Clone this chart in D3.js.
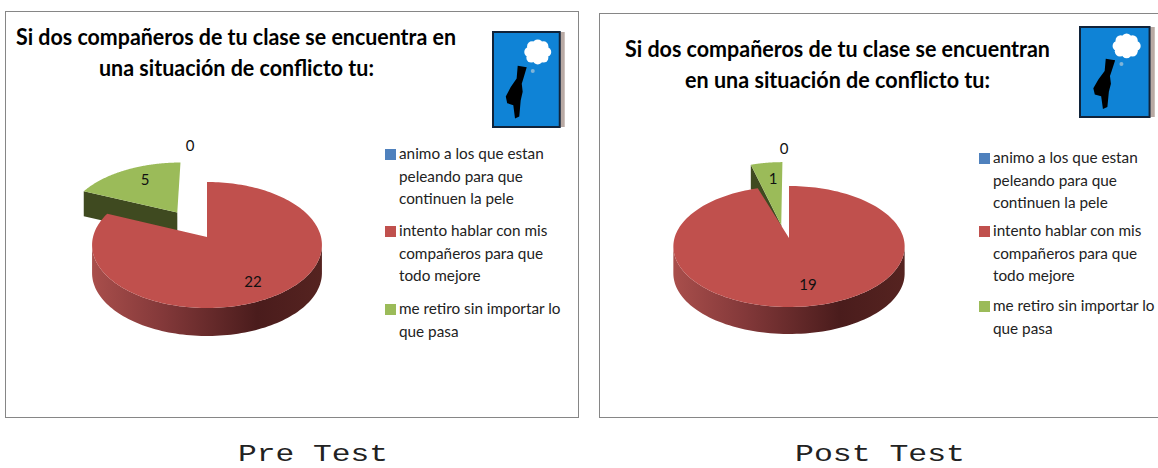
<!DOCTYPE html>
<html><head><meta charset="utf-8">
<script src="https://cdn.jsdelivr.net/npm/d3@7"></script>
<style>html,body{margin:0;background:#fff;overflow:hidden}svg{display:block}</style></head>
<body><svg id="c" width="1158" height="468"></svg>
<script>
const categories=["animo a los que estan peleando para que continuen la pele","intento hablar con mis compañeros para que todo mejore","me retiro sin importar lo que pasa"];
const legendLines=[["animo a los que estan","peleando para que","continuen la pele"],["intento hablar con mis","compañeros para que","todo mejore"],["me retiro sin importar lo","que pasa"]];
const colors=["#4F81BD","#C0504D","#9BBB59"];
const preValues=[0,22,5];
const postValues=[0,19,1];
const preTitle=["Si dos compañeros de tu clase se encuentra en","una situación de conflicto tu:"];
const postTitle=["Si dos compañeros de tu clase se encuentran","en una situación de conflicto tu:"];
const captions=["Pre Test","Post Test"];
const panels=[
 {values:preValues,title:preTitle,caption:captions[0],box:[5,11,573,406],titleX:[16,99],titleLen:[440,275],titleY:[45,76],
  apex:[207,237],top:55,bottom:71,rx:114,depth:28,ex:{u:-.2745,v:.418,sx:1,sy:1},gdepth:25,
  icon:[493,32,71,95],legend:{x:385,sw:12,ys:[154,231,309]},lab:{zero:[190,146],green:[145,180],red:[253,282]},capX:313},
 {values:postValues,title:postTitle,caption:captions[1],box:[599,13,570,404],titleX:[625,685],titleLen:[425,305],titleY:[57,88],
  apex:[789,238],top:52,bottom:69,rx:114.5,depth:27,ex:{u:-.07,v:.22,sx:1.08,sy:1.34},gdepth:24,
  icon:[1080,27,74,90],legend:{x:979,sw:12,ys:[158,231,306]},lab:{zero:[784,149],green:[773,179],red:[808,285]},capX:880}
];
const figure=[[34.8,35.4],[47.5,37],[42.8,49],[40.5,54.5],[41.8,63],[39,72],[37,89],[31,91],[28.6,77],[20,75],[18,68],[25,58],[33.3,49]];
const cloud=[[63,29,7],[54,27,7],[51,21,7],[55,15,7],[63,13,7],[71,15,7],[75,21,7],[71,27,7],[63,21,10]];
const svg=d3.select("#c");
const defs=svg.append("defs");
const pieGen=d3.pie().sort(null).value(d=>d);
const font="Lato, 'Open Sans', sans-serif";
panels.forEach((p,pi)=>{
  const g=svg.append("g");
  g.append("rect").attr("x",p.box[0]+.5).attr("y",p.box[1]+.5).attr("width",p.box[2]).attr("height",p.box[3]).attr("fill","#fff").attr("stroke","#868686").attr("stroke-width",1);
  p.title.forEach((t,i)=>g.append("text").text(t).attr("x",p.titleX[i]).attr("y",p.titleY[i]).attr("font-family",font).attr("font-weight",700).attr("font-size",22).attr("textLength",p.titleLen[i]).attr("lengthAdjust","spacingAndGlyphs").attr("fill","#000"));
  const w=(p.bottom-p.top)/(p.bottom+p.top), ry=p.top*(1+w);
  const proj=(u,v)=>{const k=1+w*v;return [p.apex[0]+p.rx*u/k,p.apex[1]-ry*v/k];};
  const arcs=pieGen(p.values);
  const angles=(a0,a1)=>d3.range(0,181).map(i=>a0+(a1-a0)*i/180);
  const line=d3.line();
  const red=arcs[1], green=arcs[2];
  const gpt=a=>proj(p.ex.u+p.ex.sx*Math.sin(a),p.ex.v+p.ex.sy*Math.cos(a));
  const gapex=proj(p.ex.u,p.ex.v), gleft=gpt(green.startAngle);
  g.append("path").attr("d",line([gapex,gleft,[gleft[0],gleft[1]+p.gdepth],[gapex[0],gapex[1]+p.gdepth]])+"Z").attr("fill","#3F4A20");
  g.append("path").attr("d",line([gapex,...angles(green.startAngle,green.endAngle).map(gpt)])+"Z").attr("fill",colors[2]);
  const gid="side"+pi;
  const lg=defs.append("linearGradient").attr("id",gid).attr("gradientUnits","userSpaceOnUse").attr("x1",p.apex[0]-p.rx).attr("x2",p.apex[0]+p.rx).attr("y1",0).attr("y2",0);
  [[0,"#A84E4B"],[.3,"#84393A"],[.72,"#4A1C1C"],[1,"#552320"]].forEach(s=>lg.append("stop").attr("offset",s[0]).attr("stop-color",s[1]));
  const rpt=a=>proj(Math.sin(a),Math.cos(a));
  const rim=angles(red.startAngle,red.endAngle).map(rpt);
  const front=rim.slice(d3.greatestIndex(rim,d=>d[0]),d3.leastIndex(rim,d=>d[0])+1);
  g.append("path").attr("d",line([...front,...front.slice().reverse().map(d=>[d[0],d[1]+p.depth])])+"Z").attr("fill",`url(#${gid})`);
  g.append("path").attr("d",line([proj(0,0),...rim])+"Z").attr("fill",colors[1]);
  [["zero",arcs[0].value],["green",green.value],["red",red.value]].forEach(([k,v])=>g.append("text").text(v).attr("x",p.lab[k][0]).attr("y",p.lab[k][1]).attr("dy","0.35em").attr("text-anchor","middle").attr("font-family",font).attr("font-size",15).attr("fill","#111"));
  legendLines.forEach((ls,i)=>{
    const y=p.legend.ys[i];
    g.append("rect").attr("x",p.legend.x).attr("y",y-5).attr("width",p.legend.sw-1).attr("height",p.legend.sw-1).attr("fill",colors[i]);
    ls.forEach((t,j)=>g.append("text").text(t).attr("x",p.legend.x+14).attr("y",y+j*22.3).attr("dy","0.35em").attr("font-family",font).attr("font-size",15.3).attr("fill","#222"));
  });
  const [ix,iy,iw,ih]=p.icon;
  const sx=d3.scaleLinear().domain([0,100]).range([ix,ix+iw]), sy=d3.scaleLinear().domain([0,100]).range([iy,iy+ih]);
  g.append("rect").attr("x",ix+iw*.93).attr("y",iy).attr("width",iw*.08).attr("height",ih).attr("fill","#b9aaa4");
  g.append("rect").attr("x",ix).attr("y",iy).attr("width",iw*.94).attr("height",ih).attr("fill","#0F83D6").attr("stroke","#10233a").attr("stroke-width",2);
  cloud.forEach(c=>g.append("circle").attr("cx",sx(c[0])).attr("cy",sy(c[1])).attr("r",c[2]*iw/100).attr("fill","#fff"));
  g.append("circle").attr("cx",sx(56)).attr("cy",sy(41)).attr("r",2).attr("fill","#7fb4d8");
  g.append("path").attr("d",line(figure.map(d=>[sx(d[0]),sy(d[1])]))+"Z").attr("fill","#000");
  svg.append("text").text(p.caption).attr("x",p.capX).attr("y",460.5).attr("text-anchor","middle").attr("font-family","'Liberation Mono',monospace").attr("font-size",24).attr("textLength",pi?170:150).attr("lengthAdjust","spacingAndGlyphs").attr("fill","#222");
});
</script></body></html>
